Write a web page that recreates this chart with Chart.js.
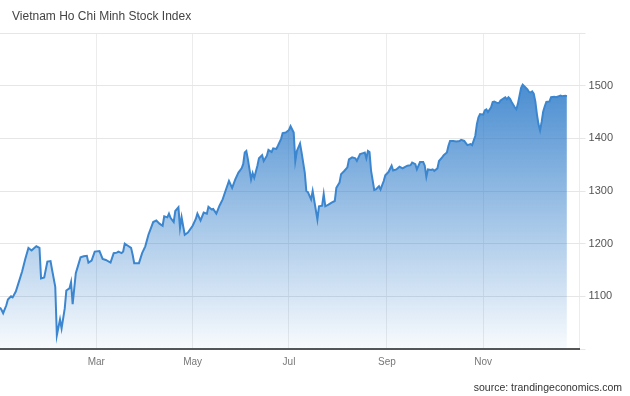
<!DOCTYPE html>
<html>
<head>
<meta charset="utf-8">
<script src="https://cdn.jsdelivr.net/npm/chart.js@4.4.1/dist/chart.umd.min.js"></script>
<style>
  html, body { margin: 0; padding: 0; background: #ffffff; }
  #wrap { position: relative; width: 630px; height: 396px; overflow: hidden; }
  #c { position: absolute; left: 0; top: 0; }
  #title { position: absolute; left: 12px; top: 9px; font-family: "Liberation Sans", Arial, sans-serif; font-size: 12px; color: #444; white-space: nowrap; }
  #source { position: absolute; right: 8px; top: 381px; font-family: "Liberation Sans", Arial, sans-serif; font-size: 10.5px; color: #333; white-space: nowrap; }
</style>
</head>
<body>
<div id="wrap">
  <canvas id="c" width="630" height="396"></canvas>
  <div id="title">Vietnam Ho Chi Minh Stock Index</div>
  <div id="source">source: trandingeconomics.com</div>
</div>
<script>
const days = [-2,-1,0,2,3,5,6,8,10,12,14,16,18,19,21,23,24,26,28,30,31,33,34,36,37,39,40,42,43,44,46,49,51,53,54,56,58,61,63,65,68,70,72,73,75,76,77,79,81,82,83,86,88,90,92,94,95,97,99,101,102,104,105,106,108,109,111,112,113,114,115,117,120,122,123,125,127,129,130,132,133,135,137,139,141,143,145,147,149,151,152,153,154,155,157,158,159,161,162,164,165,167,168,170,171,173,174,176,177,179,181,182,184,185,186,188,189,191,192,193,195,196,199,200,202,203,204,206,208,210,211,213,214,216,218,219,221,223,224,226,228,229,230,231,232,233,235,236,238,239,241,242,244,246,247,249,251,253,254,256,258,259,261,262,264,266,267,268,269,271,272,273,275,276,278,279,281,282,283,285,287,289,290,292,293,294,296,297,299,300,301,302,304,305,306,307,309,310,311,313,314,315,317,318,319,320,321,322,324,325,326,327,328,329,330,332,333,334,335,336,337,338,339,340,341,342,343,344,346,347,349,350,352,353,354,356,357];
// Index values
const indexValues = [1079,1074,1068,1083,1094,1100,1098,1109,1128,1147,1171,1192,1187,1190,1195,1192,1134,1136,1166,1167,1150,1118,1026,1056,1039,1077,1111,1115,1127,1085,1144,1174,1176,1177,1164,1168,1185,1186,1171,1169,1164,1182,1183,1185,1182,1185,1200,1196,1192,1179,1163,1163,1182,1195,1217,1233,1241,1244,1238,1234,1252,1250,1257,1249,1241,1262,1269,1230,1250,1233,1217,1221,1234,1247,1257,1244,1259,1257,1270,1265,1266,1257,1272,1284,1302,1319,1306,1322,1335,1343,1351,1373,1376,1360,1322,1334,1325,1348,1362,1368,1357,1367,1378,1374,1381,1380,1386,1399,1410,1411,1416,1423,1411,1357,1376,1390,1373,1335,1300,1298,1284,1300,1246,1271,1272,1294,1271,1274,1278,1281,1306,1316,1332,1338,1345,1360,1364,1362,1357,1370,1372,1373,1362,1376,1374,1338,1302,1303,1309,1303,1319,1330,1336,1348,1339,1341,1346,1343,1345,1348,1349,1354,1351,1341,1355,1355,1348,1327,1341,1340,1341,1338,1343,1357,1364,1368,1373,1386,1395,1395,1394,1395,1397,1395,1391,1387,1389,1387,1405,1427,1440,1446,1445,1453,1455,1450,1459,1469,1470,1467,1467,1472,1476,1478,1474,1478,1475,1469,1459,1455,1466,1481,1496,1502,1499,1493,1488,1487,1489,1485,1470,1446,1427,1415,1431,1451,1461,1469,1470,1478,1479,1478,1480,1481,1480,1481,1480];
// Month tick positions (day of year) and labels
const monthTickDays = [59, 120, 181, 243, 304, 365];
const monthTickLabels = ["Mar", "May", "Jul", "Sep", "Nov", ""];
// Value axis ticks
const valueTicks = [1000, 1100, 1200, 1300, 1400, 1500, 1600];
const valueTickLabels = ["", "1100", "1200", "1300", "1400", "1500", ""];

const points = days.map((d, i) => ({ x: d, y: indexValues[i] }));

new Chart(document.getElementById('c'), {
  type: 'line',
  data: {
    datasets: [{
      data: points,
      borderColor: '#3b86cf',
      borderWidth: 2,
      pointRadius: 0,
      tension: 0,
      fill: 'start',
      backgroundColor: (ctx) => {
        const ca = ctx.chart.chartArea;
        if (!ca) return 'rgba(40,120,200,0.4)';
        const g = ctx.chart.ctx.createLinearGradient(0, ca.top, 0, ca.bottom);
        g.addColorStop(0, 'rgba(40,120,200,1)');
        g.addColorStop(1, 'rgba(40,120,200,0.03)');
        return g;
      }
    }]
  },
  options: {
    responsive: false,
    animation: false,
    devicePixelRatio: 1,
    layout: { padding: { top: 33, right: 14, bottom: 21, left: 0 } },
    plugins: { legend: { display: false }, tooltip: { enabled: false }, title: { display: false } },
    scales: {
      x: {
        type: 'linear',
        min: -2,
        max: 365,
        afterBuildTicks: (axis) => { axis.ticks = monthTickDays.map(v => ({ value: v })); },
        ticks: {
          autoSkip: false,
          maxRotation: 0,
          padding: 7,
          color: '#777',
          font: { family: '"Liberation Sans", Arial, sans-serif', size: 10 },
          callback: (v) => { const i = monthTickDays.indexOf(v); return i >= 0 ? monthTickLabels[i] : ''; }
        },
        grid: { color: '#ececec', drawTicks: false },
        border: { color: '#555', width: 2 }
      },
      y: {
        position: 'right',
        min: 1000,
        max: 1600,
        afterBuildTicks: (axis) => { axis.ticks = valueTicks.map(v => ({ value: v })); },
        ticks: {
          padding: 3,
          color: '#555',
          font: { family: '"Liberation Sans", Arial, sans-serif', size: 11 },
          callback: (v) => { const i = valueTicks.indexOf(v); return i >= 0 ? valueTickLabels[i] : ''; }
        },
        grid: { color: '#e6e6e6', tickLength: 6 },
        border: { display: false }
      }
    }
  }
});
</script>
</body>
</html>
